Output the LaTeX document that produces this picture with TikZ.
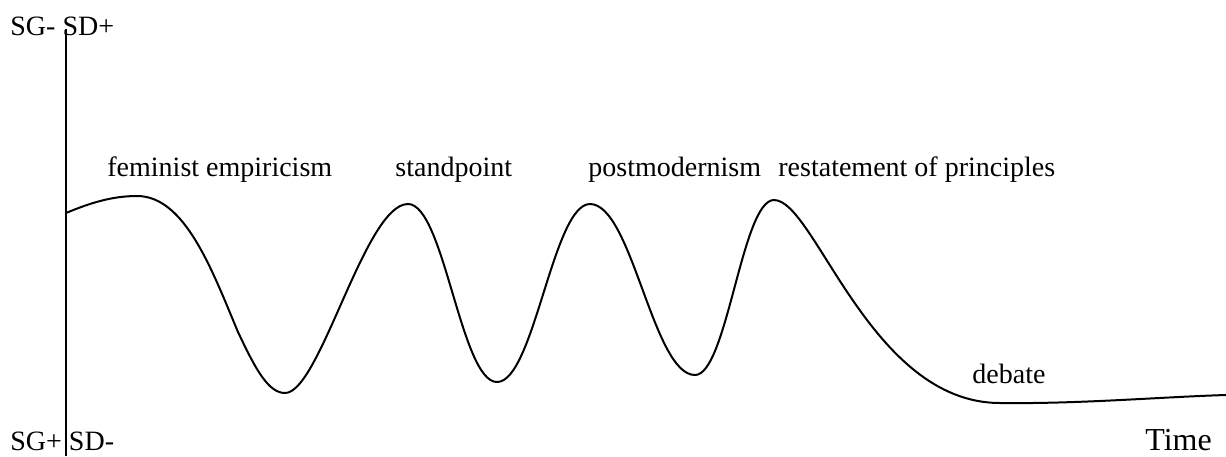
\documentclass[tikz,border=0pt]{standalone}
\usepackage{fontspec}
\setmainfont{Liberation Serif}
\usetikzlibrary{positioning}
\tikzset{
	lbl/.style={anchor=base west, inner sep=0pt, font=\fontsize{14}{16}\selectfont},
	wave/.style={line width=1pt, line join=round}
}
\begin{document}
\begin{tikzpicture}[x=0.5pt,y=-0.5pt]
		\useasboundingbox (0,0) rectangle (1226,456);
		
		% Axis
		\coordinate (top) at (66,29);
		\coordinate (bot) at (66,456);
		\draw[line width=1pt] (top) -- (bot);
		
		% Curve
		\draw[wave] (66,213)
		.. controls (90,203) and (112,196) .. (137,196)
		.. controls (185,196) and (212,270) .. (238,332)
		.. controls (255,368) and (268,393) .. (285,393)
		.. controls (320,393) and (365,204) .. (408,204)
		.. controls (444,204) and (461,382) .. (497,382)
		.. controls (534,382) and (553,204) .. (590,204)
		.. controls (632,204) and (653,375) .. (695,375)
		.. controls (727,375) and (742,200) .. (774,200)
		.. controls (815,200) and (870,403) .. (1000,403)
		.. controls (1080,404) and (1160,397) .. (1226,395);
		
		% Axis ends
		\node[lbl] (high) at (10,35) {SG- SD+};
		\node[lbl] (low) at (10,450) {SG+ SD-};
		\node[lbl, font=\fontsize{16}{18}\selectfont] (time) at (1145,450) {Time};
		
		% Phases
		\foreach \x/\y/\name/\txt in {107/176/emp/feminist empiricism, 395/176/stand/standpoint,
			588/176/pomo/postmodernism, 778/176/restate/restatement of principles, 972/383/deb/debate}
		\node[lbl] (\name) at (\x,\y) {\txt};
	\end{tikzpicture}
\end{document}
